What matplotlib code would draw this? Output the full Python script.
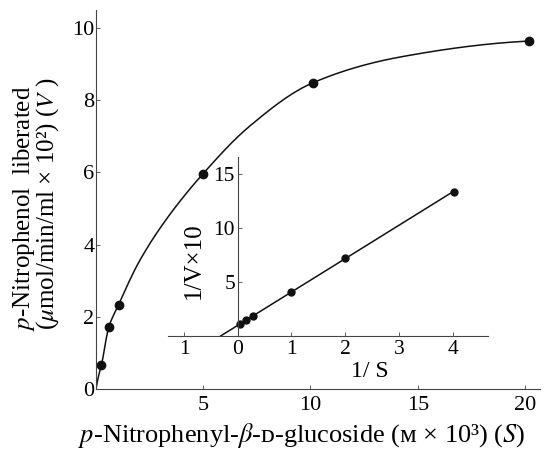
import matplotlib
matplotlib.use('Agg')
import matplotlib.pyplot as plt
import numpy as np

plt.rcParams['font.family'] = ['Liberation Serif', 'DejaVu Serif', 'DejaVu Sans']
plt.rcParams['mathtext.fontset'] = 'stix'

# main plot: substrate conc. (mM) vs velocity
s_conc = [0.25, 0.6, 1.05, 5.0, 10.1, 20.2]
v_rate = [0.66, 1.72, 2.33, 5.97, 8.48, 9.64]
# extra points
guide_s = [0.0, 2.05, 3.6, 7.2, 14.2]
guide_v = [0.0, 3.57, 4.96, 7.3, 9.2]

# inset: Lineweaver-Burk
inv_s = [0.05, 0.15, 0.28, 1.0, 2.0, 4.02]
inv_v = [1.1, 1.48, 1.85, 4.1, 7.2, 13.4]

main_yticks = [0, 2, 4, 6, 8, 10]
main_xticks = [5, 10, 15, 20]
inset_xticks = [-1, 0, 1, 2, 3, 4]
inset_xlabels = ['1', '0', '1', '2', '3', '4']
inset_yticks = [5, 10, 15]

INK = '#111111'
AXC = '#444444'


def pchip(x, y, xn):
	"""monotone cubic through the knots (Fritsch-Carlson)"""
	x = np.asarray(x, float); y = np.asarray(y, float)
	h = np.diff(x); d = np.diff(y) / h
	m = np.zeros_like(y)
	for k in range(1, len(x) - 1):
		if d[k-1] * d[k] > 0:
			w1 = 2*h[k] + h[k-1]; w2 = h[k] + 2*h[k-1]
			m[k] = (w1 + w2) / (w1/d[k-1] + w2/d[k])
	m[0] = max(0, ((2*h[0] + h[1])*d[0] - h[0]*d[1]) / (h[0] + h[1]))
	m[-1] = max(0, ((2*h[-1] + h[-2])*d[-1] - h[-1]*d[-2]) / (h[-1] + h[-2]))
	i = np.clip(np.searchsorted(x, xn) - 1, 0, len(h) - 1)
	t = (xn - x[i]) / h[i]
	h00 = 2*t**3 - 3*t**2 + 1; h10 = t**3 - 2*t**2 + t
	h01 = -2*t**3 + 3*t**2; h11 = t**3 - t**2
	return h00*y[i] + h10*h[i]*m[i] + h01*y[i+1] + h11*h[i]*m[i+1]


fig = plt.figure(figsize=(5.52, 4.54), dpi=100)
W, H = 552.0, 454.0

ax = fig.add_axes([96/W, 65/H, 444/W, 379/H])
ax.set_xlim(0, 20.7)
ax.set_ylim(0, 10.5)
for sp in ['top', 'right']:
	ax.spines[sp].set_visible(False)
for sp in ['left', 'bottom']:
	ax.spines[sp].set_color(AXC)
	ax.spines[sp].set_linewidth(0.8)

# smooth guide through the points, spline taken in sqrt(S) so spacing is even
knots = sorted(zip(s_conc + guide_s, v_rate + guide_v))
ks = np.sqrt([k[0] for k in knots]); kv = [k[1] for k in knots]
xs = np.linspace(0, max(s_conc), 600)
ax.plot(xs, pchip(ks, kv, np.sqrt(xs)), color=INK, lw=1.1)
ax.plot(s_conc, v_rate, 'o', color=INK, ms=6)

ax.set_xticks(main_xticks)
ax.set_yticks(main_yticks)
ax.tick_params(direction='in', length=3, width=0.6, color=AXC, labelsize=16)
ax.tick_params(axis='y', pad=1)
ax.tick_params(axis='x', pad=5)

fig.text(302/W, 1 - 436/H, r'$\it{p}$-Nitrophenyl-$\it{\beta}$-ᴅ-glucoside (ᴍ × 10³) ($\it{S}$)',
	ha='center', va='center', fontsize=19)
fig.text(24/W, 1 - 208/H, r'$\it{p}$-Nitrophenol  liberated', rotation=90, ha='center', va='center', fontsize=18)
fig.text(48/W, 1 - 204/H, r'($\it{\mu}$mol/min/ml × 10²) ($\it{V}$ )', rotation=90, ha='center', va='center', fontsize=18)

# inset
ins = fig.add_axes([168/W, (H - 336)/H, 320/W, 179/H])
ins.patch.set_visible(False)
ins.set_xlim(-1.3, 4.66)
ins.set_ylim(0, 16.6)
for sp in ['top', 'right']:
	ins.spines[sp].set_visible(False)
ins.spines['left'].set_position(('data', 0))
for sp in ['left', 'bottom']:
	ins.spines[sp].set_color(AXC)
	ins.spines[sp].set_linewidth(0.8)

slope, icpt = np.polyfit(inv_s, inv_v, 1)
lx = np.array([-icpt / slope, max(inv_s)])
ins.plot(lx, slope*lx + icpt, color=INK, lw=1.1)
ins.plot(inv_s, inv_v, 'o', color=INK, ms=5)

ins.set_xticks(inset_xticks)
ins.set_xticklabels(inset_xlabels)
ins.set_yticks(inset_yticks)
ins.tick_params(direction='in', length=3, width=0.6, color=AXC, labelsize=15.5)
ins.tick_params(axis='y', pad=2)
ins.tick_params(axis='x', pad=3)
ins.text(0.08, 0.42, '1/V×10', transform=ins.transAxes, rotation=90, ha='center', va='center', fontsize=18)
ins.text(0.63, -0.2, '1/ S', transform=ins.transAxes, ha='center', va='center', fontsize=17)

fig.savefig('out.png', dpi=100)
